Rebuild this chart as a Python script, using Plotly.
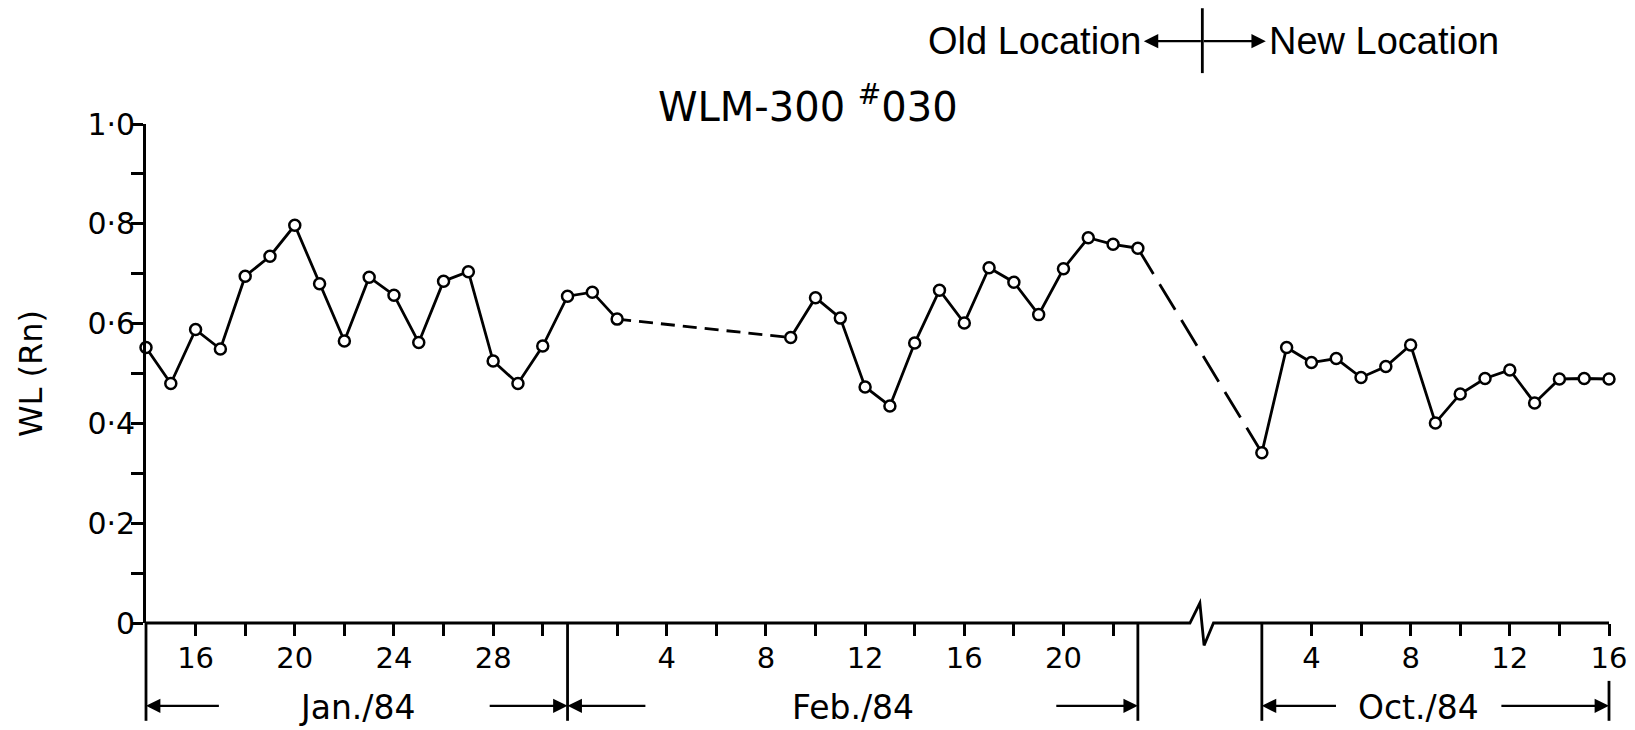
import plotly.graph_objects as go

# ---------------- data ----------------
jan_days = list(range(14, 32))
jan_wl = [0.552, 0.480, 0.588, 0.549, 0.695, 0.735, 0.797, 0.680, 0.565,
          0.693, 0.657, 0.562, 0.685, 0.704, 0.525, 0.480, 0.555, 0.655]

feb_days = [1, 2, 9, 10, 11, 12, 13, 14, 15, 16, 17, 18, 19, 20, 21, 22, 23]
feb_wl = [0.663, 0.609, 0.572, 0.652, 0.611, 0.473, 0.435, 0.561, 0.667,
          0.601, 0.712, 0.683, 0.618, 0.710, 0.772, 0.759, 0.751]

oct_days = list(range(2, 17))
oct_wl = [0.341, 0.552, 0.522, 0.530, 0.492, 0.514, 0.557, 0.401, 0.459,
          0.490, 0.507, 0.441, 0.489, 0.490, 0.489]

month_labels = ["Jan./84", "Feb./84", "Oct./84"]
jan_tick_days = [16, 18, 20, 22, 24, 26, 28, 30]
jan_label_days = [16, 20, 24, 28]
feb_tick_days = [2, 4, 6, 8, 10, 12, 14, 16, 18, 20, 22]
feb_label_days = [4, 8, 12, 16, 20]
oct_tick_days = [4, 6, 8, 10, 12, 14, 16]
oct_label_days = [4, 8, 12, 16]

y_tick_vals = [0, 0.1, 0.2, 0.3, 0.4, 0.5, 0.6, 0.7, 0.8, 0.9, 1.0]
y_tick_text = ["0", "", "0·2", "", "0·4", "", "0·6", "", "0·8", "", "1·0"]

title_text = "WLM-300 <sup>#</sup>030"
y_title = "WL (Rn)"
old_loc = "Old Location"
new_loc = "New Location"

# ---------------- axis layout (segmented day axis) ----------------
JAN_START, JAN_END = 14, 31
FEB_END = 23
OCT_START, OCT_END = 2, 16
BREAK_GAP = 5  # axis units between Feb 23 and Oct 2

def jan_pos(d):
    return d - JAN_START

FEB_OFF = jan_pos(JAN_END)
def feb_pos(d):
    return FEB_OFF + d

OCT_OFF = feb_pos(FEB_END) + BREAK_GAP - OCT_START
def oct_pos(d):
    return OCT_OFF + d

X_MAX = oct_pos(OCT_END)
BREAK_X = feb_pos(FEB_END) + 2.6

xs = [jan_pos(d) for d in jan_days] + [feb_pos(d) for d in feb_days] + [oct_pos(d) for d in oct_days]
ys = jan_wl + feb_wl + oct_wl

# Build solid segments (consecutive days) and dashed connectors (gaps)
solid_x, solid_y = [xs[0]], [ys[0]]
dash_short, dash_long = [], []
for i in range(1, len(xs)):
    if xs[i] - xs[i - 1] == 1:
        solid_x.append(xs[i]); solid_y.append(ys[i])
    else:
        pair = ([xs[i - 1], xs[i]], [ys[i - 1], ys[i]])
        if xs[i - 1] < BREAK_X < xs[i]:
            dash_long.append(pair)
        else:
            dash_short.append(pair)
        solid_x += [None, xs[i]]; solid_y += [None, ys[i]]

LW = 2.8
fig = go.Figure()
fig.add_trace(go.Scatter(x=solid_x, y=solid_y, mode="lines",
                         line=dict(color="black", width=LW), cliponaxis=False,
                         hoverinfo="skip", showlegend=False))
for px_, py_ in dash_short:
    fig.add_trace(go.Scatter(x=px_, y=py_, mode="lines",
                             line=dict(color="black", width=LW, dash="14px,8px"),
                             cliponaxis=False, showlegend=False))
for px_, py_ in dash_long:
    fig.add_trace(go.Scatter(x=px_, y=py_, mode="lines",
                             line=dict(color="black", width=LW, dash="30px,12px"),
                             cliponaxis=False, showlegend=False))
fig.add_trace(go.Scatter(x=xs, y=ys, mode="markers",
                         marker=dict(symbol="circle", size=11, color="white",
                                     line=dict(color="black", width=2.5)),
                         cliponaxis=False, showlegend=False))

# ticks
tick_vals, tick_text = [], []
for days, labels, f in [(jan_tick_days, jan_label_days, jan_pos),
                        (feb_tick_days, feb_label_days, feb_pos),
                        (oct_tick_days, oct_label_days, oct_pos)]:
    for d in days:
        tick_vals.append(f(d))
        tick_text.append(str(d) if d in labels else "")

FONT = "Liberation Sans, Arial, sans-serif"
FONT2 = "DejaVu Sans, sans-serif"

def px(xv):
    return xv / X_MAX

shapes = []
# x-axis line with break zig-zag
zz = [(0, 0), (BREAK_X - 0.5, 0), (BREAK_X - 0.1, 0.04), (BREAK_X + 0.07, -0.045),
      (BREAK_X + 0.45, 0), (X_MAX, 0)]
path = "M " + " L ".join(f"{px(a):.5f},{b:.4f}" for a, b in zz)
shapes.append(dict(type="path", path=path, xref="paper", yref="paper",
                   line=dict(color="black", width=LW)))
LOW = -0.196
# y-axis extension below zero
shapes.append(dict(type="line", xref="paper", yref="paper", x0=0, x1=0, y0=0, y1=LOW,
                   line=dict(color="black", width=LW)))
# month dividers
for xv in [feb_pos(0), feb_pos(FEB_END), oct_pos(OCT_START)]:
    shapes.append(dict(type="line", xref="paper", yref="paper", x0=px(xv), x1=px(xv),
                       y0=0, y1=LOW, line=dict(color="black", width=LW)))
shapes.append(dict(type="line", xref="paper", yref="paper", x0=1, x1=1,
                   y0=-0.116, y1=LOW, line=dict(color="black", width=LW)))
# location change marker
shapes.append(dict(type="line", xref="paper", yref="paper", x0=px(BREAK_X), x1=px(BREAK_X),
                   y0=1.102, y1=1.232, line=dict(color="black", width=LW)))

annotations = []
ARROW_Y = -0.166

def arrow(head, tail, y):
    return dict(x=head, y=y, xref="x", yref="paper", ax=tail, ay=0,
                axref="x", ayref="pixel", text="", showarrow=True,
                arrowhead=2, arrowsize=1.2, arrowwidth=2.4, arrowcolor="black",
                standoff=0, startstandoff=0)

month_spans = [(jan_pos(JAN_START), feb_pos(0), 3.0, 3.2, 8.5),
               (feb_pos(0), feb_pos(FEB_END), 3.2, 3.35, 28.5),
               (oct_pos(OCT_START), X_MAX, 3.05, 4.4, 51.3)]
for (a, b, la, ra, cx), lab in zip(month_spans, month_labels):
    annotations.append(arrow(a, a + la, ARROW_Y))
    annotations.append(arrow(b, b - ra, ARROW_Y))
    annotations.append(dict(x=cx, y=-0.170, xref="x", yref="paper", text=lab,
                            showarrow=False, xanchor="center", yanchor="middle",
                            font=dict(family=FONT2, size=33, color="black")))

# title
annotations.append(dict(x=26.7, y=1.040, xref="x", yref="paper", text=title_text,
                        showarrow=False, xanchor="center", yanchor="middle",
                        font=dict(family=FONT2, size=40, color="black")))
# location legend
annotations.append(arrow(40.24, BREAK_X, 1.166))
annotations.append(arrow(45.16, BREAK_X, 1.166))
annotations.append(dict(x=40.2, y=1.166, xref="x", yref="paper", text=old_loc,
                        showarrow=False, xanchor="right", yanchor="middle",
                        font=dict(family=FONT, size=38, color="black")))
annotations.append(dict(x=45.2, y=1.166, xref="x", yref="paper", text=new_loc,
                        showarrow=False, xanchor="left", yanchor="middle",
                        font=dict(family=FONT, size=38, color="black")))

fig.update_layout(
    width=1635, height=730,
    margin=dict(l=146, r=26, t=124, b=107, autoexpand=False),
    paper_bgcolor="white", plot_bgcolor="white",
    showlegend=False,
    shapes=shapes, annotations=annotations,
    xaxis=dict(range=[0, X_MAX], showline=False, zeroline=False, showgrid=False,
               tickmode="array", tickvals=tick_vals, ticktext=tick_text,
               ticks="outside", ticklen=12, tickwidth=LW, tickcolor="black",
               ticklabelstandoff=-3,
               tickfont=dict(family=FONT2, size=29, color="black")),
    yaxis=dict(range=[0, 1], showline=True, linecolor="black", linewidth=LW,
               zeroline=False, showgrid=False,
               tickmode="array", tickvals=y_tick_vals, ticktext=y_tick_text,
               ticks="outside", ticklen=12, tickwidth=LW, tickcolor="black",
               ticklabelstandoff=-10,
               tickfont=dict(family=FONT2, size=30, color="black")),
    yaxis_title=dict(text=y_title, standoff=36,
                     font=dict(family=FONT2, size=32, color="black")),
)

fig.write_html("out.html", config={"displayModeBar": False},
               post_script="document.body.style.margin='0';document.body.style.padding='0';")
